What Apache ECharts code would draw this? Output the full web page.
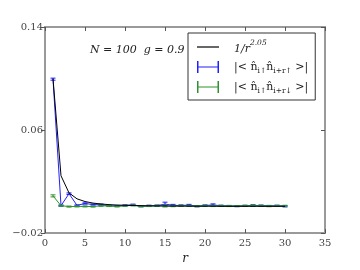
<!DOCTYPE html>
<html>
<head>
<meta charset="utf-8">
<script src="https://cdn.jsdelivr.net/npm/echarts@6/dist/echarts.min.js"></script>
<style>html,body{margin:0;padding:0;background:#fff}#c{width:360px;height:270px}</style>
</head>
<body>
<div id="c"></div>
<script>
var rValues = [1,2,3,4,5,6,7,8,9,10,11,12,13,14,15,16,17,18,19,20,21,22,23,24,25,26,27,28,29,30];
var fitValues = [0.1000,0.0245,0.0112,0.0066,0.0045,0.0033,0.0026,0.0021,0.0018,0.0016,0.0014,0.0013,0.0012,0.0011,0.0011,0.0010,0.0010,0.0009,0.0009,0.0009,0.0009,0.0008,0.0008,0.0008,0.0008,0.0008,0.0008,0.0008,0.0008,0.0008];
var upUpValues = [0.0995,0.0013,0.0106,0.0015,0.0030,0.0022,0.0020,0.0012,0.0010,0.0015,0.0020,0.0008,0.0012,0.0013,0.0025,0.0016,0.0014,0.0018,0.0008,0.0014,0.0019,0.0012,0.0011,0.0009,0.0012,0.0015,0.0014,0.0011,0.0013,0.0008];
var upUpErrors = [0.0008,0.0004,0.0006,0.0004,0.0005,0.0004,0.0005,0.0004,0.0004,0.0004,0.0005,0.0004,0.0005,0.0005,0.0015,0.0007,0.0005,0.0005,0.0004,0.0005,0.0008,0.0005,0.0004,0.0004,0.0004,0.0005,0.0004,0.0004,0.0004,0.0005];
var upDownValues = [0.0089,0.0013,0.0006,0.0007,0.0007,0.0006,0.0012,0.0010,0.0007,0.0012,0.0015,0.0008,0.0010,0.0012,0.0010,0.0009,0.0012,0.0011,0.0009,0.0012,0.0010,0.0011,0.0010,0.0010,0.0012,0.0013,0.0012,0.0009,0.0011,0.0012];
var upDownErrors = [0.0008,0.0004,0.0004,0.0004,0.0004,0.0004,0.0004,0.0004,0.0004,0.0004,0.0004,0.0004,0.0004,0.0004,0.0007,0.0004,0.0004,0.0004,0.0004,0.0004,0.0004,0.0004,0.0004,0.0004,0.0004,0.0005,0.0004,0.0004,0.0004,0.0004];
var xTicks = {min: 0, max: 35, interval: 5};
var yTicks = {min: -0.02, max: 0.14, interval: 0.08};

var BLUE = '#2020ff', GREEN = '#2e922e', BLACK = '#000000', AXIS = '#9a9a9a';
var serif = '"DejaVu Serif", "Liberation Serif", serif';

function pairs(vals){ return rValues.map(function(r,i){ return [r, vals[i]]; }); }
function errData(vals, errs){ return rValues.map(function(r,i){ return [r, vals[i]-errs[i], vals[i]+errs[i]]; }); }
function errRender(color){
  return function(params, api){
    var x = api.value(0);
    var lo = api.coord([x, api.value(1)]);
    var hi = api.coord([x, api.value(2)]);
    var hw = 2.5;
    var st = {stroke: color, lineWidth: 1};
    return {type:'group', children:[
      {type:'line', shape:{x1:lo[0],y1:lo[1],x2:hi[0],y2:hi[1]}, style:st},
      {type:'line', shape:{x1:lo[0]-hw,y1:lo[1],x2:lo[0]+hw,y2:lo[1]}, style:st},
      {type:'line', shape:{x1:hi[0]-hw,y1:hi[1],x2:hi[0]+hw,y2:hi[1]}, style:st}
    ]};
  };
}
function fmtY(v){ var s = (Math.round(v*100)/100).toFixed(2); return s.replace('-', '\u2212'); }

var hIcon = 'path://M0,0h1.5v12h-1.5z M0,5.4h22v1.2h-22z M20.5,0h1.5v12h-1.5z';
var lineIcon = 'path://M0,5.4h22v1.2h-22z';

var chart = echarts.init(document.getElementById('c'), null, {renderer:'canvas'});
chart.setOption({
  animation: false,
  backgroundColor: '#fff',
  grid: {left: 45, right: 35, top: 27, bottom: 27, show: true, borderColor: AXIS, borderWidth: 2},
  xAxis: [{
    type: 'value', min: xTicks.min, max: xTicks.max, interval: xTicks.interval,
    name: 'r', nameLocation: 'middle', nameGap: 16,
    nameTextStyle: {fontFamily: serif, fontStyle: 'italic', fontSize: 12, color: '#222'},
    axisLine: {show: true, onZero: false, lineStyle: {color: AXIS, width: 2}},
    axisTick: {show: true, inside: true, length: 4, lineStyle: {color: '#555', width: 1}},
    axisLabel: {fontFamily: serif, fontSize: 10, color: '#444', margin: 5},
    splitLine: {show: false}
  },{
    type: 'value', position: 'top', min: xTicks.min, max: xTicks.max, interval: xTicks.interval,
    axisLine: {show: false, onZero: false}, axisTick: {show: true, inside: true, length: 4, lineStyle: {color: '#555'}},
    axisLabel: {show: false}, splitLine: {show: false}
  }],
  yAxis: [{
    type: 'value', min: yTicks.min, max: yTicks.max, interval: yTicks.interval,
    axisLine: {show: true, onZero: false, lineStyle: {color: AXIS, width: 2}},
    axisTick: {show: true, inside: false, length: 4, lineStyle: {color: '#555'}},
    axisLabel: {fontFamily: serif, fontSize: 10, color: '#444', margin: 2, formatter: fmtY},
    splitLine: {show: false}
  },{
    type: 'value', position: 'right', min: yTicks.min, max: yTicks.max, interval: yTicks.interval,
    axisLine: {show: false, onZero: false}, axisTick: {show: true, inside: true, length: 4, lineStyle: {color: '#555'}},
    axisLabel: {show: false}, splitLine: {show: false}
  }],
  legend: {
    orient: 'vertical', left: 188, top: 33,
    padding: [6, 7, 5, 9], itemGap: 6, itemWidth: 22, itemHeight: 12,
    borderColor: '#333', borderWidth: 1, backgroundColor: '#fff', borderRadius: 0,
    selectedMode: false,
    data: [
      {name: 'fit', icon: lineIcon, itemStyle: {color: BLACK}},
      {name: 'upup', icon: hIcon, itemStyle: {color: BLUE}},
      {name: 'updown', icon: hIcon, itemStyle: {color: GREEN}}
    ],
    formatter: function(name){
      if (name === 'fit') return '{i|1/r}{sup|2.05}';
      if (name === 'upup') return '{t||< n\u0302}{sub|i\u2191}{t|n\u0302}{sub|i+r\u2191}{t| >|}';
      return '{t||< n\u0302}{sub|i\u2191}{t|n\u0302}{sub|i+r\u2193}{t| >|}';
    },
    textStyle: {
      fontFamily: serif, fontSize: 11, color: '#222', padding: [0,0,0,10],
      rich: {
        i: {fontFamily: serif, fontStyle: 'italic', fontSize: 11, color: '#222', lineHeight: 16, verticalAlign: 'bottom'},
        sup: {fontFamily: serif, fontStyle: 'italic', fontSize: 7.5, color: '#222', lineHeight: 16, verticalAlign: 'top'},
        t: {fontFamily: serif, fontSize: 11, color: '#222', lineHeight: 16, verticalAlign: 'middle'},
        sub: {fontFamily: serif, fontSize: 7.5, color: '#222', lineHeight: 16, verticalAlign: 'bottom'}
      }
    }
  },
  graphic: [{
    type: 'text', left: 90, top: 45,
    style: {text: 'N = 100  g = 0.9', font: 'italic 11px ' + serif, fill: '#222'}
  }],
  series: [
    {name: 'upup', type: 'line', data: pairs(upUpValues), showSymbol: false, symbol: 'none',
     lineStyle: {color: BLUE, width: 1}, itemStyle: {color: BLUE}, z: 3},
    {name: 'upup-err', type: 'custom', data: errData(upUpValues, upUpErrors), renderItem: errRender(BLUE), z: 3},
    {name: 'updown', type: 'line', data: pairs(upDownValues), showSymbol: false, symbol: 'none',
     lineStyle: {color: GREEN, width: 1}, itemStyle: {color: GREEN}, z: 4},
    {name: 'updown-err', type: 'custom', data: errData(upDownValues, upDownErrors), renderItem: errRender(GREEN), z: 4},
    {name: 'fit', type: 'line', data: pairs(fitValues), showSymbol: false, symbol: 'none',
     lineStyle: {color: BLACK, width: 1}, itemStyle: {color: BLACK}, z: 5}
  ]
});
</script>
</body>
</html>
